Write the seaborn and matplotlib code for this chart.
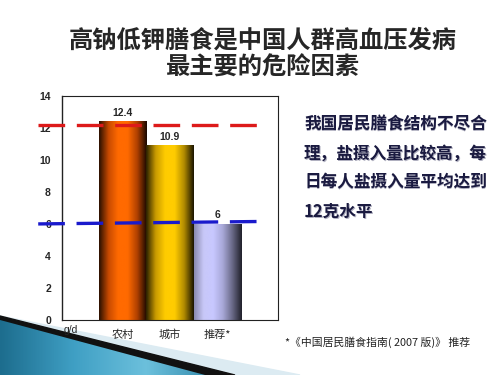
import numpy as np
import pandas as pd
import seaborn as sns
import matplotlib.pyplot as plt
from matplotlib.colors import LinearSegmentedColormap
from matplotlib.patches import Polygon

# data
groups = ['农村', '城市', '推荐*']
salt = [12.4, 10.9, 6]
value_labels = ['12.4', '10.9', '6']
avg_line = 12.2          # red dashed level
rec_line = [6.0, 6.15]   # blue dashed level (slightly tilted in the original)
yticks = [0, 2, 4, 6, 8, 10, 12, 14]

title = '高钠低钾膳食是中国人群高血压发病\n最主要的危险因素'
side_text = ['我国居民膳食结构不尽合', '理，盐摄入量比较高，每',
             '日每人盐摄入量平均达到', '12克水平']
footnote = '*《中国居民膳食指南( 2007 版)》 推荐'

sns.set_style('white')
plt.rcParams['font.family'] = ['Noto Sans CJK SC', 'DejaVu Sans']

df = pd.DataFrame({'group': groups, 'salt': salt})

fig = plt.figure(figsize=(5, 3.75), dpi=100)
fig.patch.set_facecolor('white')

# decorative swoosh at bottom left
bg = fig.add_axes([0, 0, 1, 1], zorder=-5)
bg.set_xlim(0, 500)
bg.set_ylim(375, 0)
bg.axis('off')
bg.add_patch(Polygon([[0, 316], [300, 375], [0, 375]], color='#dcebf2'))
bg.add_patch(Polygon([[0, 316], [235, 375], [0, 375]], color='#111111'))
sw = np.linspace(0, 1, 200).reshape(1, -1)
img = bg.imshow(sw, cmap=LinearSegmentedColormap.from_list(
    's', ['#1d6d8e', '#3f9fc4', '#6cc0dc', '#2f86a8']), aspect='auto',
    extent=[0, 220, 375, 316], zorder=1)
img.set_clip_path(Polygon([[0, 320], [205, 375], [0, 375]],
                          transform=bg.transData))

ax = fig.add_axes([0.124, 0.147, 0.432, 0.597])
sns.barplot(data=df, x='group', y='salt', width=1.0, color='white',
            edgecolor='none', ax=ax)

# cylinder-like gradients over each bar
grads = [
    ['#2a1000', '#c84a00', '#ff6a00', '#ff6a00', '#b04000', '#1a0800'],
    ['#2a2000', '#c89a00', '#ffcc00', '#ffcc00', '#b08a00', '#1a1400'],
    ['#8a8ab0', '#c8c8f8', '#c8c8ff', '#a8a8d8', '#6a6a88', '#20202a'],
]
ramp = np.linspace(0, 1, 200).reshape(1, -1)
for p, cols in zip(ax.patches, grads):
    x0, w, h = p.get_x(), p.get_width(), p.get_height()
    cm = LinearSegmentedColormap.from_list('g', cols)
    ax.imshow(ramp, cmap=cm, aspect='auto', extent=[x0, x0 + w, 0, h],
              zorder=2, interpolation='bicubic')

for i, (v, lab) in enumerate(zip(salt, value_labels)):
    ax.text(i, v + 0.25, lab, ha='center', va='bottom', fontsize=7.5,
            fontweight='bold', family=['Liberation Sans', 'DejaVu Sans'])

ax.set_xlim(-1.27, 3.27)
ax.set_ylim(0, 14)
ax.set_yticks(yticks)
ax.set_yticklabels([str(t) for t in yticks], fontsize=7.5, fontweight='bold',
                   family=['Liberation Sans', 'DejaVu Sans'])
ax.tick_params(axis='y', direction='in', length=3, width=0.6, pad=8)
ax.tick_params(axis='x', length=0, labelsize=8, pad=7)
ax.set_xlabel('')
ax.set_ylabel('')
for s in ax.spines.values():
    s.set_color('#222222')
    s.set_linewidth(0.8)
ax.spines['left'].set_linewidth(1.0)

ax.plot([-1.77, 2.92], [avg_line, avg_line], color='#dd1a1a', lw=2.4,
        dashes=(8, 3.5), clip_on=False, zorder=4)
ax.plot([-1.77, 2.82], rec_line, color='#1a1acc', lw=2.4,
        dashes=(8, 3.5), clip_on=False, zorder=4)

ax.text(-1.23, -0.3, 'g/d', fontsize=7.5, ha='left', va='top',
        family=['Liberation Sans', 'DejaVu Sans'])

fig.text(0.525, 0.856, title, ha='center', va='center', fontsize=17.5,
         fontweight='bold', linespacing=1.2)

for k, line in enumerate(side_text):
    for dx, dy, c in [(0.9, -0.9, '#b0b0c0'), (0, 0, '#1a1a40')]:
        fig.text(0.608 + dx / 500, 0.667 - k * 0.077 + dy / 375, line,
                 fontsize=12, fontweight='bold', color=c, va='center')

fig.text(0.57, 0.088, footnote, fontsize=7.8, color='#222222', va='center')

fig.savefig('out.png', dpi=100)
